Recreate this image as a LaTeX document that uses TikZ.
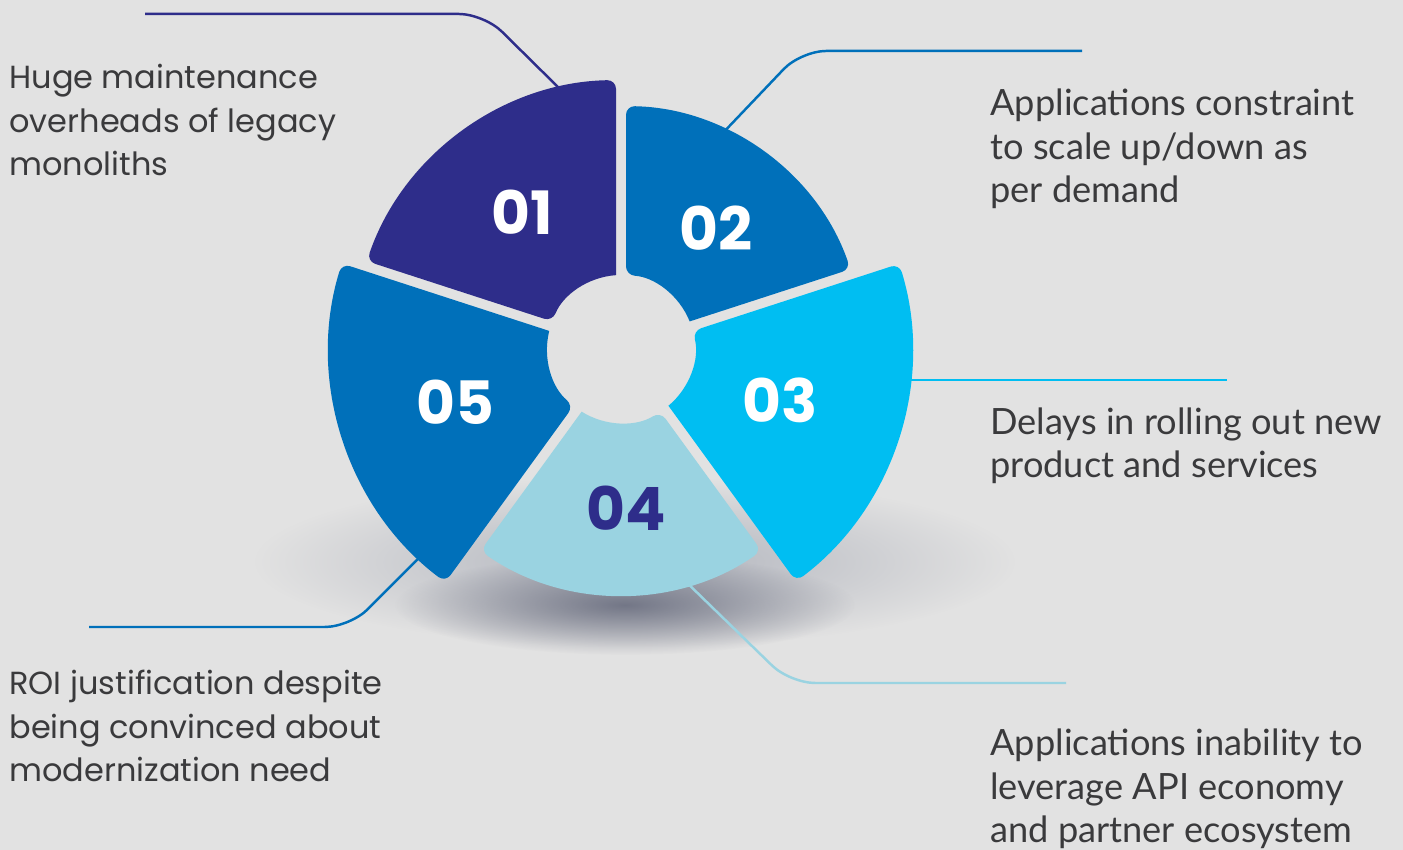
\documentclass[tikz,border=0pt]{standalone}
\usepackage{fontspec}
\usetikzlibrary{fadings}
\newfontfamily\poppins{Poppins}
\newfontfamily\lato{Lato}

\definecolor{bgc}{RGB}{226,226,226}
\definecolor{c01}{RGB}{46,45,138}
\definecolor{c02}{RGB}{0,112,186}
\definecolor{c03}{RGB}{0,190,242}
\definecolor{c04}{RGB}{154,211,225}
\definecolor{c05}{RGB}{0,112,186}
\definecolor{txtc}{RGB}{58,58,60}
\definecolor{shdark}{RGB}{100,104,122}
\definecolor{shmid}{RGB}{176,179,188}

\tikzfading[name=shadowfade, inner color=transparent!0, outer color=transparent!100]

\begin{document}
\begin{tikzpicture}[thick,
    txtl/.style={anchor=base west, align=left, inner sep=0pt, text=txtc,
      font=\poppins\fontsize{9.1}{12.5}\selectfont},
    txtr/.style={anchor=base west, align=left, inner sep=0pt, text=txtc,
      font=\lato\fontsize{10.3}{12.5}\selectfont},
    num/.style={font=\poppins\bfseries\fontsize{17}{17}\selectfont, text=white},
    link/.style={line width=0.7pt, rounded corners=0.25cm}]

  % Background
  \useasboundingbox (0,0) rectangle (14.03,8.5);
  \fill[bgc] (0,0) rectangle (14.03,8.5);

  % Shadow under the wheel
  \fill[shmid, path fading=shadowfade] (6.35,2.88) ellipse (3.8 and 0.85);
  \fill[shdark, path fading=shadowfade, fill opacity=0.85] (6.25,2.45) ellipse (2.3 and 0.5);

  % Connector end points
  \coordinate (s1) at (5.65,7.56);
  \coordinate (k1) at (4.84,8.36);
  \coordinate (e1) at (1.45,8.36);
  \coordinate (s2) at (7.20,7.14);
  \coordinate (k2) at (8.01,7.99);
  \coordinate (e2) at (10.82,7.99);
  \coordinate (s3) at (9.00,4.70);
  \coordinate (e3) at (12.27,4.70);
  \coordinate (s4) at (6.80,2.74);
  \coordinate (k4) at (7.90,1.67);
  \coordinate (e4) at (10.66,1.67);
  \coordinate (s5) at (4.25,2.98);
  \coordinate (k5) at (3.50,2.23);
  \coordinate (e5) at (0.89,2.23);

  % Draw the connectors
  \draw[link, c01] (s1) -- (k1) -- (e1);
  \draw[link, c02] (s2) -- (k2) -- (e2);
  \draw[link, c03] (s3) -- (e3);
  \draw[link, c04] (s4) -- (k4) -- (e4);
  \draw[link, c05] (s5) -- (k5) -- (e5);

  % Draw the five segments
  \coordinate (C) at (6.21,5.01);
  \begin{scope}[shift={(C)}]
    \foreach \a/\r/\c in {90/2.69/c01, 18/2.43/c02, -54/2.91/c03, -126/2.46/c04, 162/2.92/c05} {
      \pgfmathsetmacro\di{0.05/0.74*57.3}
      \pgfmathsetmacro\do{0.05/\r*57.3}
      \pgfmathsetmacro\ao{\a+\do}
      \pgfmathsetmacro\bo{\a+72-\do}
      \pgfmathsetmacro\ai{\a+\di}
      \pgfmathsetmacro\bi{\a+72-\di}
      \fill[\c] (\ai:0.74) [rounded corners=2.5pt] -- (\ao:\r)
        arc[start angle=\ao, end angle=\bo, radius=\r]
        -- (\bi:0.74) [sharp corners] arc[start angle=\bi, end angle=\ai, radius=0.74] -- cycle;
    }
  \end{scope}

  % Add numbers
  \node[num] (n01) at (5.22,6.38) {01};
  \node[num] (n02) at (7.16,6.22) {02};
  \node[num] (n03) at (7.80,4.50) {03};
  \node[num, text=c01] (n04) at (6.26,3.42) {04};
  \node[num] (n05) at (4.55,4.48) {05};

  % Add labels (anchored at the last line)
  \node[txtl] (t01) at (0.08,6.74) {Huge maintenance\\overheads of legacy\\monoliths};
  \node[txtr] (t02) at (9.89,6.47) {Applications constraint\\to scale up/down as\\per demand};
  \node[txtr] (t03) at (9.89,3.72) {Delays in rolling out new\\product and services};
  \node[txtr] (t04) at (9.89,0.07) {Applications inability to\\leverage API economy\\and partner ecosystem};
  \node[txtl] (t05) at (0.08,0.68) {ROI justification despite\\being convinced about\\modernization need};
\end{tikzpicture}
\end{document}
